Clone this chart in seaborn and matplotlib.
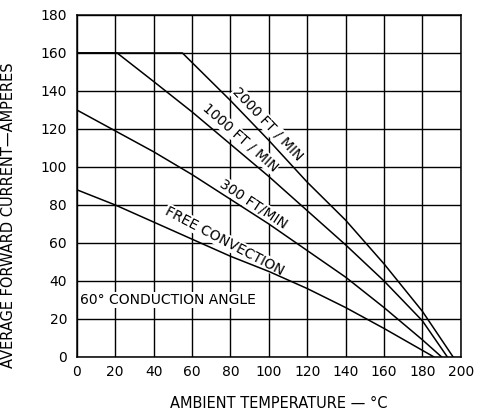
import pandas as pd
import seaborn as sns
import matplotlib.pyplot as plt

# Curves (ambient temp in deg C, current in A)
temp_free = [0, 20, 40, 60, 80, 100, 120, 140, 160, 186]
amp_free = [88, 80, 71, 62, 53, 45, 36, 26, 15, 0]

temp_300 = [0, 20, 40, 60, 80, 100, 120, 140, 160, 180, 190]
amp_300 = [130, 119, 108, 96, 83, 70, 56, 42, 26, 9, 0]

temp_1000 = [0, 21, 40, 60, 80, 100, 120, 140, 160, 180, 193]
amp_1000 = [160, 160, 145, 129, 112, 95, 77, 59, 40, 19, 0]

temp_2000 = [0, 55, 80, 100, 120, 140, 160, 180, 196]
amp_2000 = [160, 160, 135, 114, 92, 72, 49, 24, 0]

x_ticks = list(range(0, 201, 20))
y_ticks = list(range(0, 181, 20))

frames = []
for name, t, a in [("FREE CONVECTION", temp_free, amp_free),
                   ("300 FT/MIN", temp_300, amp_300),
                   ("1000 FT/MIN", temp_1000, amp_1000),
                   ("2000 FT/MIN", temp_2000, amp_2000)]:
    frames.append(pd.DataFrame({"temp": t, "amp": a, "airflow": name}))
df = pd.concat(frames, ignore_index=True)

sns.set_style("white")
plt.rcParams['font.family'] = ['DejaVu Sans']
plt.rcParams['text.color'] = 'black'
plt.rcParams['axes.labelcolor'] = 'black'

fig = plt.figure(figsize=(4.8, 4.16), dpi=100)
ax = fig.add_axes([0.160, 0.142, 0.800, 0.822])

sns.lineplot(data=df, x="temp", y="amp", hue="airflow", palette=["black"] * 4,
             estimator=None, sort=False, legend=False, lw=1.1, ax=ax, zorder=3)

ax.set_xlim(0, 200)
ax.set_ylim(0, 180)
ax.set_xticks(x_ticks)
ax.set_yticks(y_ticks)
ax.grid(True, color="black", lw=1.0)
ax.tick_params(length=0, labelsize=10, colors="black")
ax.tick_params(axis="y", pad=7)
ax.tick_params(axis="x", pad=6)
for s in ax.spines.values():
    s.set_color("black")
    s.set_linewidth(1.1)

ax.set_xlabel("AMBIENT TEMPERATURE — °C", fontsize=10.5)
ax.set_ylabel("AVERAGE FORWARD CURRENT—AMPERES", fontsize=10.5)
ax.xaxis.set_label_coords(0.526, -0.114)
ax.yaxis.set_label_coords(-0.158, 0.415)

# curve labels written along the lines, grid hidden behind them
box = dict(fc="white", ec="none", pad=0.6)
lab = dict(ha="center", va="center", rotation_mode="anchor", fontsize=10,
           bbox=box, zorder=2.5)
ax.text(99.5, 122.5, "2000 FT / MIN", rotation=-46.5, **lab)
ax.text(85, 115.5, "1000 FT / MIN", rotation=-41.4, **lab)
ax.text(92, 80.5, "300 FT/MIN", rotation=-33.5, **lab)
ax.text(77, 61, "FREE CONVECTION", rotation=-27.7, **lab)
ax.text(1.5, 30, "60° CONDUCTION ANGLE", ha="left", va="center", fontsize=10,
        bbox=box, zorder=2.5)

fig.savefig("out.png", dpi=100, facecolor="white")
